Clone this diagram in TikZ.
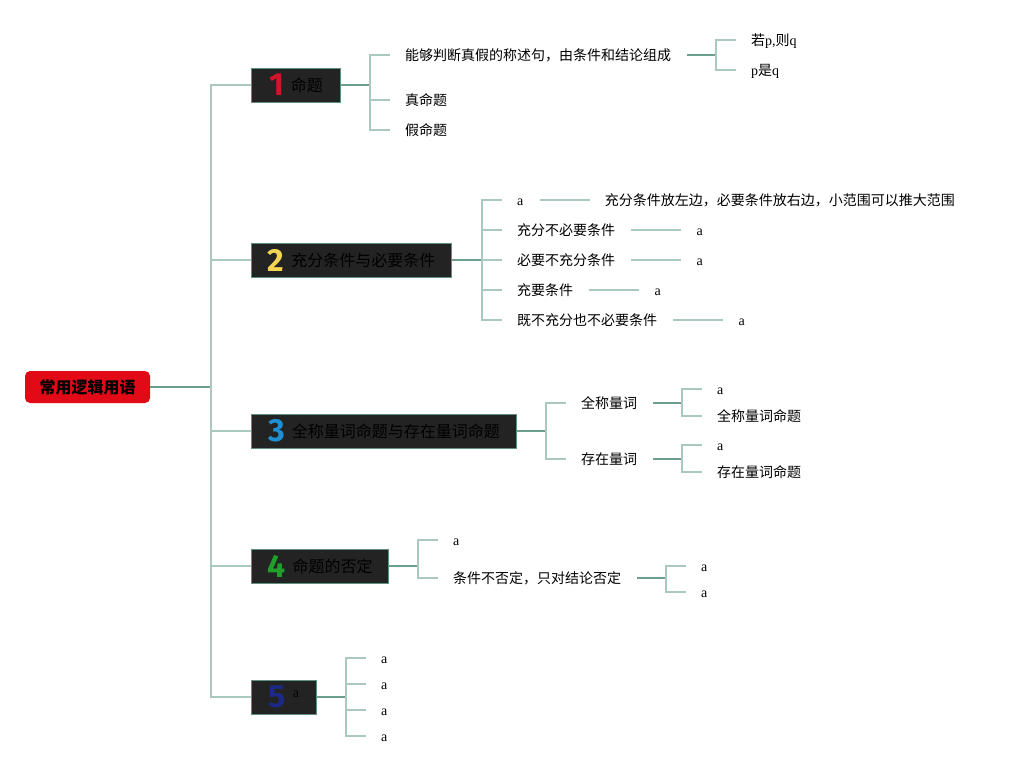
\documentclass[tikz,border=0pt]{standalone}
\usepackage{fontspec}
\setmainfont{Liberation Serif}
\newfontfamily\cjk{Noto Sans CJK SC}
\newfontfamily\numf{Fira Sans}
\newcommand\zhtxt[1]{{\cjk #1}}
\definecolor{dk}{HTML}{6E9E8F}
\definecolor{lt}{HTML}{A9C9BF}
\definecolor{boxfill}{HTML}{232323}
\definecolor{boxline}{HTML}{5F9080}
\definecolor{rootred}{HTML}{E30A17}
\definecolor{nred}{HTML}{D0142C}
\definecolor{nyel}{HTML}{F2D452}
\definecolor{nblue}{HTML}{1C90D2}
\definecolor{ngreen}{HTML}{1FA02A}
\definecolor{ndblue}{HTML}{1C2A86}
\newcommand\numtag[2]{\raisebox{-4.3pt}{\numf\bfseries\fontsize{32}{32}\selectfont\color{#1}#2}\hspace{7pt}}
\tikzset{
  dkline/.style={draw=dk, line width=1.6pt},
  ltline/.style={draw=lt, line width=1.6pt},
  topic/.style={fill=boxfill, draw=boxline, line width=1pt, minimum height=34pt,
    inner sep=0pt, anchor=west, font=\cjk\fontsize{16}{16}\selectfont, text=black},
  rootbox/.style={fill=rootred, rounded corners=5pt, minimum width=125pt, minimum height=32pt,
    inner sep=0pt, font=\cjk\bfseries\fontsize{16}{16}\selectfont, text=black},
  leaf/.style={anchor=west, inner sep=0pt, text height=12.5pt, text depth=1.5pt,
    font=\fontsize{14}{14}\selectfont},
}
\begin{document}
\begin{tikzpicture}[x=1pt,y=-1pt]
\useasboundingbox (0,0) rectangle (1014,774);

% root and topics
\node[rootbox] (root) at (87.5,387) {常用逻辑用语};
\coordinate (trunk) at (211,387);
\node[topic, minimum width=89pt]  (b1) at (251,85)  {\numtag{nred}{1}命题};
\node[topic, minimum width=200pt] (b2) at (251,260) {\numtag{nyel}{2}充分条件与必要条件};
\node[topic, minimum width=265pt] (b3) at (251,431) {\numtag{nblue}{3}全称量词命题与存在量词命题};
\node[topic, minimum width=137pt] (b4) at (251,566) {\numtag{ngreen}{4}命题的否定};
\node[topic, minimum width=65pt]  (b5) at (251,697) {\numtag{ndblue}{5}\raisebox{6pt}{\rmfamily\fontsize{14}{14}\selectfont a}};

\draw[dkline] (root.east) -- (trunk);
\foreach \b in {b1,b2,b3,b4,b5} \draw[ltline] (trunk) |- (\b.west);

% ---------- branch 1
\coordinate (f1) at (370,85);
\node[leaf] (l11) at (405,55)  {\zhtxt{能够判断真假的称述句，由条件和结论组成}};
\node[leaf] (l12) at (405,100) {\zhtxt{真命题}};
\node[leaf] (l13) at (405,130) {\zhtxt{假命题}};
\draw[dkline] (b1.east) -- (f1);
\foreach \n in {l11,l12,l13} \draw[ltline] (f1) |- ([xshift=-15pt]\n.west);
\coordinate (f11) at (716,55);
\node[leaf] (l111) at (751,40) {\zhtxt{若}p,\zhtxt{则}q};
\node[leaf] (l112) at (751,70) {p\zhtxt{是}q};
\draw[dkline] ([xshift=16pt]l11.east) -- (f11);
\foreach \n in {l111,l112} \draw[ltline] (f11) |- ([xshift=-15pt]\n.west);

% ---------- branch 2
\coordinate (f2) at (482,260);
\node[leaf] (l21) at (517,200) {a};
\node[leaf] (l22) at (517,230) {\zhtxt{充分不必要条件}};
\node[leaf] (l23) at (517,260) {\zhtxt{必要不充分条件}};
\node[leaf] (l24) at (517,290) {\zhtxt{充要条件}};
\node[leaf] (l25) at (517,320) {\zhtxt{既不充分也不必要条件}};
\draw[dkline] (b2.east) -- (f2);
\foreach \n in {l21,l22,l23,l24,l25} \draw[ltline] (f2) |- ([xshift=-15pt]\n.west);
\node[leaf] (l211) at ([xshift=81pt]l21.east) {\zhtxt{充分条件放左边，必要条件放右边，小范围可以推大范围}};
\node[leaf] (l221) at ([xshift=81pt]l22.east) {a};
\node[leaf] (l231) at ([xshift=81pt]l23.east) {a};
\node[leaf] (l241) at ([xshift=81pt]l24.east) {a};
\node[leaf] (l251) at ([xshift=81pt]l25.east) {a};
\foreach \p/\c in {l21/l211,l22/l221,l23/l231,l24/l241,l25/l251}
  \draw[ltline] ([xshift=16pt]\p.east) -- ([xshift=-15pt]\c.west);

% ---------- branch 3
\coordinate (f3) at (546,431);
\node[leaf] (l31) at (581,403) {\zhtxt{全称量词}};
\node[leaf] (l32) at (581,459) {\zhtxt{存在量词}};
\draw[dkline] (b3.east) -- (f3);
\foreach \n in {l31,l32} \draw[ltline] (f3) |- ([xshift=-15pt]\n.west);
\coordinate (f31) at (682,403);
\coordinate (f32) at (682,459);
\node[leaf] (l311) at (717,389) {a};
\node[leaf] (l312) at (717,416) {\zhtxt{全称量词命题}};
\node[leaf] (l321) at (717,445) {a};
\node[leaf] (l322) at (717,472) {\zhtxt{存在量词命题}};
\draw[dkline] ([xshift=16pt]l31.east) -- (f31);
\draw[dkline] ([xshift=16pt]l32.east) -- (f32);
\foreach \n in {l311,l312} \draw[ltline] (f31) |- ([xshift=-15pt]\n.west);
\foreach \n in {l321,l322} \draw[ltline] (f32) |- ([xshift=-15pt]\n.west);

% ---------- branch 4
\coordinate (f4) at (418,566);
\node[leaf] (l41) at (453,540) {a};
\node[leaf] (l42) at (453,578) {\zhtxt{条件不否定，只对结论否定}};
\draw[dkline] (b4.east) -- (f4);
\foreach \n in {l41,l42} \draw[ltline] (f4) |- ([xshift=-15pt]\n.west);
\coordinate (f42) at (666,578);
\node[leaf] (l421) at (701,566) {a};
\node[leaf] (l422) at (701,592) {a};
\draw[dkline] ([xshift=16pt]l42.east) -- (f42);
\foreach \n in {l421,l422} \draw[ltline] (f42) |- ([xshift=-15pt]\n.west);

% ---------- branch 5
\coordinate (f5) at (346,697);
\node[leaf] (l51) at (381,658) {a};
\node[leaf] (l52) at (381,684) {a};
\node[leaf] (l53) at (381,710) {a};
\node[leaf] (l54) at (381,736) {a};
\draw[dkline] (b5.east) -- (f5);
\foreach \n in {l51,l52,l53,l54} \draw[ltline] (f5) |- ([xshift=-15pt]\n.west);
\end{tikzpicture}
\end{document}
